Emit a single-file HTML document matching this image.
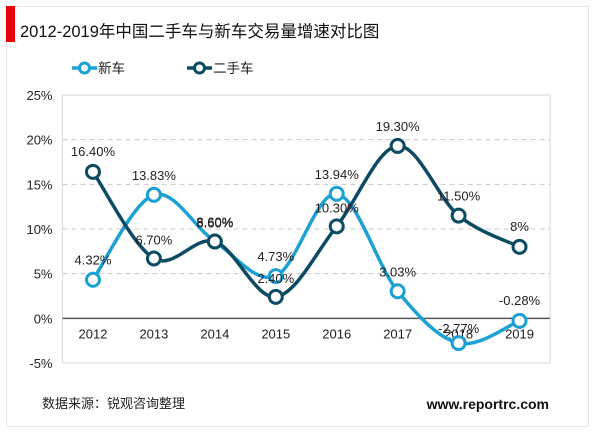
<!DOCTYPE html>
<html><head><meta charset="utf-8"><style>
body{margin:0;width:600px;height:433px;background:#fff;font-family:"Liberation Sans","Noto Sans CJK SC",sans-serif;overflow:hidden}
</style></head><body>
<svg width="600" height="433" style="position:absolute;left:0;top:0">
<rect x="6.5" y="6.5" width="582" height="420" fill="#fff" stroke="#e6e6e6"/>
<rect x="6" y="6" width="9" height="36" fill="#e8000b"/>
<text x="20" y="37" font-size="16.5" fill="#111">2012-2019年中国二手车与新车交易量增速对比图</text>
<g id="plot"></g>
<text x="42" y="408" font-size="13" fill="#222">数据来源：锐观咨询整理</text>
<text x="549" y="409" font-size="14" font-weight="bold" fill="#111" text-anchor="end">www.reportrc.com</text>
</svg>
<script>
const years=['2012','2013','2014','2015','2016','2017','2018','2019'];
const newCar=[4.32,13.83,8.60,4.73,13.94,3.03,-2.77,-0.28];
const usedCar=[16.40,6.70,8.60,2.40,10.30,19.30,11.50,8];
const newLabels=['4.32%','13.83%','8.60%','4.73%','13.94%','3.03%','-2.77%','-0.28%'];
const usedLabels=['16.40%','6.70%','8.60%','2.40%','10.30%','19.30%','11.50%','8%'];
const yTicks=[25,20,15,10,5,0,-5];
const L=62.5,R=550,T=95,B=363,yMin=-5,yMax=25;
const NS='http://www.w3.org/2000/svg';
const g=document.getElementById('plot');
const sx=i=>L+(R-L)/years.length*(i+0.5);
const sy=v=>T+(yMax-v)/(yMax-yMin)*(B-T);
function mk(t,a,p){const e=document.createElementNS(NS,t);for(const k in a)e.setAttribute(k,a[k]);(p||g).appendChild(e);return e;}
const pa=mk('rect',{x:L,y:T,width:R-L,height:B-T,fill:'none',stroke:'#d9d9d9'});


yTicks.forEach(v=>{
  if(v!==0&&v!==yMax&&v!==yMin){const gl=mk('line',{x1:L,x2:R,y1:sy(v),y2:sy(v),stroke:'#c8c8c8','stroke-dasharray':'5,4'});
  
  }
  const t=mk('text',{x:L-10,y:sy(v)+5,'font-size':13,fill:'#222','text-anchor':'end'});t.textContent=v+'%';
  
  
});
const zl=mk('line',{x1:L,x2:R,y1:sy(0),y2:sy(0),stroke:'#555','stroke-width':1.5});


years.forEach((y,i)=>{const t=mk('text',{x:sx(i),y:sy(0)+20,'font-size':13,fill:'#222','text-anchor':'middle'});t.textContent=y;

});
function path(vals){const p=vals.map((v,i)=>[sx(i),sy(v)]);let d='M'+p[0];
for(let i=0;i<p.length-1;i++){const p0=p[i-1]||p[i],p1=p[i],p2=p[i+1],p3=p[i+2]||p2;
d+=' C'+(p1[0]+(p2[0]-p0[0])/6)+','+(p1[1]+(p2[1]-p0[1])/6)+' '+(p2[0]-(p3[0]-p1[0])/6)+','+(p2[1]-(p3[1]-p1[1])/6)+' '+p2;}return d;}
function series(vals,labels,color,name,offs){
  const l=mk('path',{d:path(vals),fill:'none',stroke:color,'stroke-width':3.5});
  
  
  vals.forEach((v,i)=>{const c=mk('circle',{cx:sx(i),cy:sy(v),r:6.5,fill:'#fff',stroke:color,'stroke-width':3});
  
  
  const t=mk('text',{x:sx(i),y:sy(v)+offs[i],'font-size':13,fill:'#222','text-anchor':'middle'});t.textContent=labels[i];
  
  });
}
series(newCar,newLabels,'#1ba1d4','new-car',[-15,-15,-15,-15,-15,-15,-10,-16]);
series(usedCar,usedLabels,'#0d4b63','used-car',[-16,-14,-14,-14,-14,-15,-15,-16]);
function legend(x,color,label,name){
  const ln=mk('line',{x1:x,x2:x+25,y1:68,y2:68,stroke:color,'stroke-width':3.5});
  
  
  const c=mk('circle',{cx:x+12.5,cy:68,r:5,fill:'#fff',stroke:color,'stroke-width':3});
  
  
  const t=mk('text',{x:x+26,y:73,'font-size':13.5,fill:'#222'});t.textContent=label;
  
  
}
legend(72,'#1ba1d4','新车','new-car');
legend(187,'#0d4b63','二手车','used-car');
</script>
</body></html>
